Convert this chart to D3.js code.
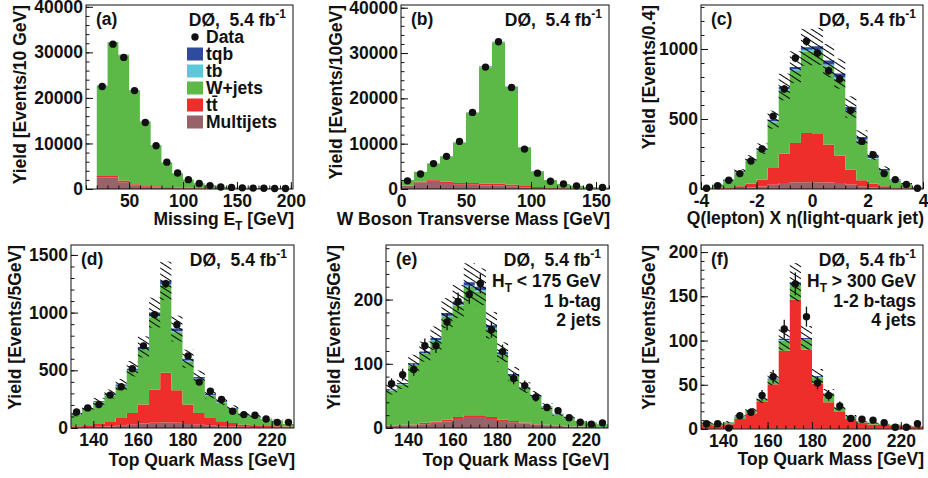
<!DOCTYPE html>
<html><head><meta charset="utf-8">
<script src="https://cdn.jsdelivr.net/npm/d3@7"></script>
<style>
body{margin:0;background:#fff}
text{font-family:"Liberation Sans",Arial,Helvetica,sans-serif;font-weight:bold;white-space:pre}
</style>
</head><body>
<svg id="c" width="928" height="478"></svg>
<script>
// ---------- (a) Missing ET ----------
const binsA = [25,35,45,55,65,75,85,95,105,115,125,135,145,155,165,175,185,195];
const multijetsA = [2600,2500,1500,700,500,350,250,180,130,100,70,50,40,30,25,20,15,12];
const ttbarA = [250,350,350,350,300,250,200,160,120,90,70,50,40,30,25,20,15,12];
const wjetsA = [19780,29330,27540,20570,13940,8950,5320,3140,1840,1100,650,400,270,190,150,110,90,75];
const tbA = [20,30,30,25,20,15,10,7,5,3,2,2,1,1,1,1,0,0];
const tqbA = [50,90,80,60,45,35,25,16,10,7,5,3,2,2,1,1,1,1];
const dataA = [22500,31800,28900,21600,14600,9500,5900,3500,2050,1200,750,450,350,250,200,150,120,100];
const xTicksA = [50,100,150,200];
const yTicksA = [0,10000,20000,30000,40000];

// ---------- (b) W transverse mass ----------
const binsB = [5,15,25,35,45,55,65,75,85,95,105,115,125,135,145,155];
const multijetsB = [700,1500,1800,1300,950,950,800,800,600,370,220,100,60,40,30,20];
const ttbarB = [60,120,200,300,350,380,400,420,400,300,200,130,80,50,30,20];
const wjetsB = [1230,2150,3650,5540,8920,15470,25690,31160,21520,8480,3450,1750,950,600,390,310];
const tbB = [5,10,15,20,25,30,35,35,25,15,8,5,3,2,1,1];
const tqbB = [10,20,35,45,55,70,80,85,60,35,20,12,7,4,3,2];
const dataB = [1800,3300,5600,7200,10500,16900,26900,32500,22400,8800,3500,1700,1100,700,400,350];
const xTicksB = [0,50,100,150];
const yTicksB = [0,10000,20000,30000,40000];

// ---------- (c) Q x eta ----------
const binsC = [-3.8,-3.4,-3.0,-2.6,-2.2,-1.8,-1.4,-1.0,-0.6,-0.2,0.2,0.6,1.0,1.4,1.8,2.2,2.6,3.0,3.4,3.8];
const multijetsC = [3,4,6,8,12,18,30,42,48,48,48,47,43,32,20,12,8,5,3,2];
const ttbarC = [1,4,6,11,26,49,120,210,281,352,345,270,197,106,42,26,11,7,3,1];
const wjetsC = [6,20,51,100,166,208,327,453,514,580,590,560,548,418,285,180,111,48,29,8];
const tbC = [0,1,2,3,4,5,8,10,12,14,14,12,10,8,6,4,3,2,1,0];
const tqbC = [0,1,2,4,6,8,10,14,16,18,22,28,26,22,18,18,10,5,2,1];
const dataC = [5,24,62,110,200,286,519,714,936,1055,971,845,786,562,340,245,110,67,33,5];
const xTicksC = [-4,-2,0,2,4];
const yTicksC = [0,500,1000];

// ---------- top quark mass bins (d,e,f) ----------
const binsTop = [132.5,137.5,142.5,147.5,152.5,157.5,162.5,167.5,172.5,177.5,182.5,187.5,192.5,197.5,202.5,207.5,212.5,217.5,222.5,227.5];
const xTicksTop = [140,160,180,200,220];

// (d) all
const multijetsD = [6,8,10,14,20,28,38,45,50,45,35,28,22,16,12,10,8,6,5,4];
const ttbarD = [9,15,25,38,67,102,165,288,428,282,168,102,65,42,31,19,15,11,10,8];
const wjetsD = [97,145,187,231,274,363,473,626,754,503,374,294,196,164,125,90,75,58,47,22];
const tbD = [1,2,3,4,5,7,9,13,14,10,8,6,4,3,2,2,1,1,1,0];
const tqbD = [3,4,6,8,10,14,18,28,30,22,16,11,8,6,4,3,2,2,1,1];
const dataD = [139,174,203,285,358,514,712,983,1250,895,625,398,320,247,145,116,110,78,49,49];
const yTicksD = [0,500,1000,1500];

// (e) HT < 175, 1 tag, 2 jets
const multijetsE = [3,4,4,6,8,10,14,17,17,14,11,9,7,5,4,3,2,2,1,1];
const ttbarE = [1,1,1.5,2,2,3,3,3,3,3,2,2,1.5,1,1,1,0.5,0.5,0.5,0.5];
const wjetsE = [54.5,62.8,92.5,107.3,125.5,160,173.3,199.5,192.5,137,100.5,70,52.2,43.5,27.5,17.2,12.8,8,7.2,4.2];
const tbE = [0.5,0.7,1,1.2,1.5,2,2.2,2.5,2.5,2,1.5,1,0.8,0.5,0.5,0.3,0.2,0.2,0.1,0.1];
const tqbE = [1,1.5,2,2.5,3,4,4.5,5,5,4,3,2,1.5,1,1,0.5,0.5,0.3,0.2,0.2];
const dataE = [69,83,91,128,128,165,197,208,225,153,119,77,66,48,32,27,16,9,6,8];
const yTicksE = [0,100,200];

// (f) HT > 300, 1-2 tags, 4 jets
const multijetsF = [0.3,0.3,0.3,0.3,0.3,0.4,0.5,0.5,0.5,0.5,0.4,0.3,0.3,0.3,0.3,0.2,0.2,0.2,0.2,0.2];
const ttbarF = [5,4,5,11,17,30,50,88,146,89,51,30,19,11,7,5,4.5,3.5,3,2.5];
const wjetsF = [1.6,1.6,2.4,2.3,3.1,2.7,5.1,11.4,16.7,11.4,7.2,8.8,4.1,2.3,1.4,1.6,1.2,1.2,0.7,0.2];
const tbF = [0.05,0.05,0.1,0.1,0.2,0.3,0.4,0.6,0.8,0.6,0.4,0.3,0.2,0.1,0.1,0.05,0.05,0.05,0.05,0.05];
const tqbF = [0.1,0.1,0.2,0.3,0.4,0.6,1,1.5,2,1.5,1,0.6,0.4,0.3,0.2,0.1,0.1,0.1,0.1,0.1];
const dataF = [6,6,1,15,19,38,59,113,164,127,52,38,26,12,11,10,7,2,2,6];
const yTicksF = [0,50,100,150,200];

const legendLabels = ["Data","tqb","tb","W+jets","tt\u0304","Multijets"];

// ---------- styling / layout ----------
const colors = {multijets:"#976368", ttbar:"#ed2e2a", wjets:"#5cb947", tb:"#5ec8da", tqb:"#2f4b9f"};
const keys = ["multijets","ttbar","wjets","tb","tqb"];
const FS = 17.5;

const svg = d3.select("#c");
const defs = svg.append("defs");
const pat = defs.append("pattern").attr("id","hatch").attr("patternUnits","userSpaceOnUse")
  .attr("width",10).attr("height",5).attr("patternTransform","rotate(33)");
pat.append("line").attr("x1",0).attr("x2",10).attr("y1",2.5).attr("y2",2.5)
  .attr("stroke","#000").attr("stroke-width",1);

const panels = [
 {id:"a", bins:binsA, bw:10, s:[multijetsA,ttbarA,wjetsA,tbA,tqbA], data:dataA, unc:0,
  L:86,R:293,T:5,B:189, xd:[10,202], ymax:40400, xMaj:xTicksA, xMin:d3.range(10,203,10),
  yMaj:yTicksA, yMin:d3.range(0,40401,2000),
  xTitle:[{t:"Missing E"},{t:"T",sub:1},{t:" [GeV]"}], xTitleY:225,
  yTitle:"Yield [Events/10 GeV]", yTitleX:26, label:"(a)", lines:[]},
 {id:"b", bins:binsB, bw:10, s:[multijetsB,ttbarB,wjetsB,tbB,tqbB], data:dataB, unc:0,
  L:401,R:609,T:5,B:189, xd:[0,160], ymax:40600, xMaj:xTicksB, xMin:d3.range(0,161,10),
  yMaj:yTicksB, yMin:d3.range(0,40601,2000),
  xTitle:[{t:"W Boson Transverse Mass [GeV]"}], xTitleY:225,
  yTitle:"Yield [Events/10GeV]", yTitleX:342, label:"(b)", lines:[]},
 {id:"c", bins:binsC, bw:0.4, s:[multijetsC,ttbarC,wjetsC,tbC,tqbC], data:dataC, unc:0.13,
  L:701,R:923,T:5,B:189, xd:[-4,4], ymax:1314, xMaj:xTicksC, xMin:d3.range(-4,4.01,0.4),
  yMaj:yTicksC, yMin:d3.range(0,1301,100),
  xTitle:[{t:"Q(lepton) X \u03b7(light-quark jet)"}], xTitleY:224,
  yTitle:"Yield [Events/0.4]", yTitleX:655, label:"(c)", lines:[]},
 {id:"d", bins:binsTop, bw:5, s:[multijetsD,ttbarD,wjetsD,tbD,tqbD], data:dataD, unc:0.13,
  L:71,R:294,T:245,B:428, xd:[130,230], ymax:1586, xMaj:xTicksTop, xMin:d3.range(132,231,4),
  yMaj:yTicksD, yMin:d3.range(0,1586,100),
  xTitle:[{t:"Top Quark Mass [GeV]"}], xTitleY:466,
  yTitle:"Yield [Events/5GeV]", yTitleX:21, label:"(d)", lines:[]},
 {id:"e", bins:binsTop, bw:5, s:[multijetsE,ttbarE,wjetsE,tbE,tqbE], data:dataE, unc:0.13,
  L:386,R:608,T:245,B:428, xd:[130,230], ymax:285, xMaj:xTicksTop, xMin:d3.range(132,231,4),
  yMaj:yTicksE, yMin:d3.range(0,285,20),
  xTitle:[{t:"Top Quark Mass [GeV]"}], xTitleY:466,
  yTitle:"Yield [Events/5GeV]", yTitleX:340, label:"(e)",
  lines:[[{t:"H"},{t:"T",sub:1},{t:" < 175 GeV"}],[{t:"1 b-tag"}],[{t:"2 jets"}]]},
 {id:"f", bins:binsTop, bw:5, s:[multijetsF,ttbarF,wjetsF,tbF,tqbF], data:dataF, unc:0.13,
  L:701,R:923,T:245,B:429, xd:[130,230], ymax:208, xMaj:xTicksTop, xMin:d3.range(132,231,4),
  yMaj:yTicksF, yMin:d3.range(0,208,10),
  xTitle:[{t:"Top Quark Mass [GeV]"}], xTitleY:465,
  yTitle:"Yield [Events/5GeV]", yTitleX:655, label:"(f)",
  lines:[[{t:"H"},{t:"T",sub:1},{t:" > 300 GeV"}],[{t:"1-2 b-tags"}],[{t:"4 jets"}]]}
];

function rich(g, x, y, parts, anchor){
  const t = g.append("text").attr("x",x).attr("y",y).attr("text-anchor",anchor||"start")
    .attr("font-size",FS).attr("fill","#111");
  let shifted = 0;
  parts.forEach(p=>{
    const ts = t.append("tspan").text(p.t);
    if (p.sub){ ts.attr("dy",5).attr("font-size",12); shifted = 5; }
    else if (p.sup){ ts.attr("dy",-8).attr("font-size",12); shifted = -8; }
    else if (shifted){ ts.attr("dy",-shifted); shifted = 0; }
  });
  return t;
}

panels.forEach(p=>{
  const g = svg.append("g");
  const x = d3.scaleLinear().domain(p.xd).range([p.L,p.R]);
  const y = d3.scaleLinear().domain([0,p.ymax]).range([p.B,p.T]);
  const clipId = "clip"+p.id;
  defs.append("clipPath").attr("id",clipId).append("rect")
    .attr("x",p.L).attr("y",p.T).attr("width",p.R-p.L).attr("height",p.B-p.T);

  const rows = p.bins.map((b,i)=>{
    const r = {bin:b};
    keys.forEach((k,j)=> r[k] = p.s[j][i]);
    return r;
  });
  const stacked = d3.stack().keys(keys)(rows);
  const hw = p.bw/2;
  const area = d3.area().x(d=>x(d.x)).y0(d=>y(d.y0)).y1(d=>y(d.y1));
  const hg = g.append("g").attr("clip-path",`url(#${clipId})`);
  stacked.forEach(layer=>{
    const pts = layer.flatMap(d=>[{x:d.data.bin-hw,y0:d[0],y1:d[1]},{x:d.data.bin+hw,y0:d[0],y1:d[1]}]);
    hg.append("path").attr("d",area(pts)).attr("fill",colors[layer.key]);
  });
  // uncertainty band
  if (p.unc>0){
    const top = stacked[stacked.length-1];
    hg.selectAll("rect.unc").data(top).join("rect")
      .attr("x",d=>x(d.data.bin-hw)).attr("width",d=>x(d.data.bin+hw)-x(d.data.bin-hw))
      .attr("y",d=>y(d[1]*(1+p.unc))).attr("height",d=>y(d[1]*(1-p.unc))-y(d[1]*(1+p.unc)))
      .attr("fill","url(#hatch)");
  }

  // frame
  g.append("rect").attr("x",p.L).attr("y",p.T).attr("width",p.R-p.L).attr("height",p.B-p.T)
    .attr("fill","none").attr("stroke","#111").attr("stroke-width",1);

  // axes
  const styleAxis = sel=>{
    sel.select(".domain").remove();
    sel.selectAll("line").attr("stroke","#111");
    sel.selectAll("text").attr("font-size",FS).attr("font-family","'Liberation Sans',Arial,sans-serif")
      .attr("font-weight","bold").attr("fill","#111");
  };
  g.append("g").attr("transform",`translate(0,${p.B})`)
    .call(d3.axisBottom(x).tickValues(p.xMin).tickSize(-3.5).tickFormat("")).call(styleAxis);
  g.append("g").attr("transform",`translate(0,${p.B})`)
    .call(d3.axisBottom(x).tickValues(p.xMaj).tickSize(-7).tickPadding(6).tickFormat(d=>String(d))).call(styleAxis);
  g.append("g").attr("transform",`translate(${p.L},0)`)
    .call(d3.axisLeft(y).tickValues(p.yMin).tickSize(-3.5).tickFormat("")).call(styleAxis);
  g.append("g").attr("transform",`translate(${p.L},0)`)
    .call(d3.axisLeft(y).tickValues(p.yMaj).tickSize(-7).tickPadding(3).tickFormat(d=>String(d))).call(styleAxis);

  // data
  const dg = g.append("g");
  p.data.forEach((v,i)=>{
    const cx = x(p.bins[i]);
    const e = Math.sqrt(v);
    dg.append("line").attr("x1",cx).attr("x2",cx).attr("y1",y(v+e)).attr("y2",y(Math.max(0,v-e)))
      .attr("stroke","#111").attr("stroke-width",1.3);
    dg.append("circle").attr("cx",cx).attr("cy",y(v)).attr("r",3.7).attr("fill","#111");
  });

  // titles
  rich(g, p.R+1, p.xTitleY, p.xTitle, "end");
  g.append("text").attr("transform",`translate(${p.yTitleX},${p.T}) rotate(-90)`)
    .attr("text-anchor","end").attr("font-size",FS).attr("fill","#111").text(p.yTitle);

  // panel label & experiment tag
  const base = p.T + 20;
  g.append("text").attr("x",p.L+10).attr("y",base).attr("font-size",FS).attr("fill","#111").text(p.label);
  rich(g, p.R-7, base+1, [{t:"D\u00d8,  5.4 fb"},{t:"-1",sup:1}], "end");
  p.lines.forEach((ln,k)=> rich(g, p.R-7, base+22+k*19.5, ln, "end"));
});

// legend in panel (a)
(function(){
  const g = svg.append("g");
  const lx = 187, tx = 206;
  const baselines = [43,60,77,94,111,128];
  g.append("circle").attr("cx",195).attr("cy",baselines[0]-6).attr("r",3.7).attr("fill","#111");
  const legKeys = ["tqb","tb","wjets","ttbar","multijets"];
  legKeys.forEach((k,i)=>{
    g.append("rect").attr("x",lx).attr("y",baselines[i+1]-12.5).attr("width",16).attr("height",13)
      .attr("fill",colors[k]);
  });
  legendLabels.forEach((t,i)=>{
    g.append("text").attr("x",tx).attr("y",baselines[i]).attr("font-size",FS).attr("fill","#111").text(t);
  });
})();
</script>
</body></html>
